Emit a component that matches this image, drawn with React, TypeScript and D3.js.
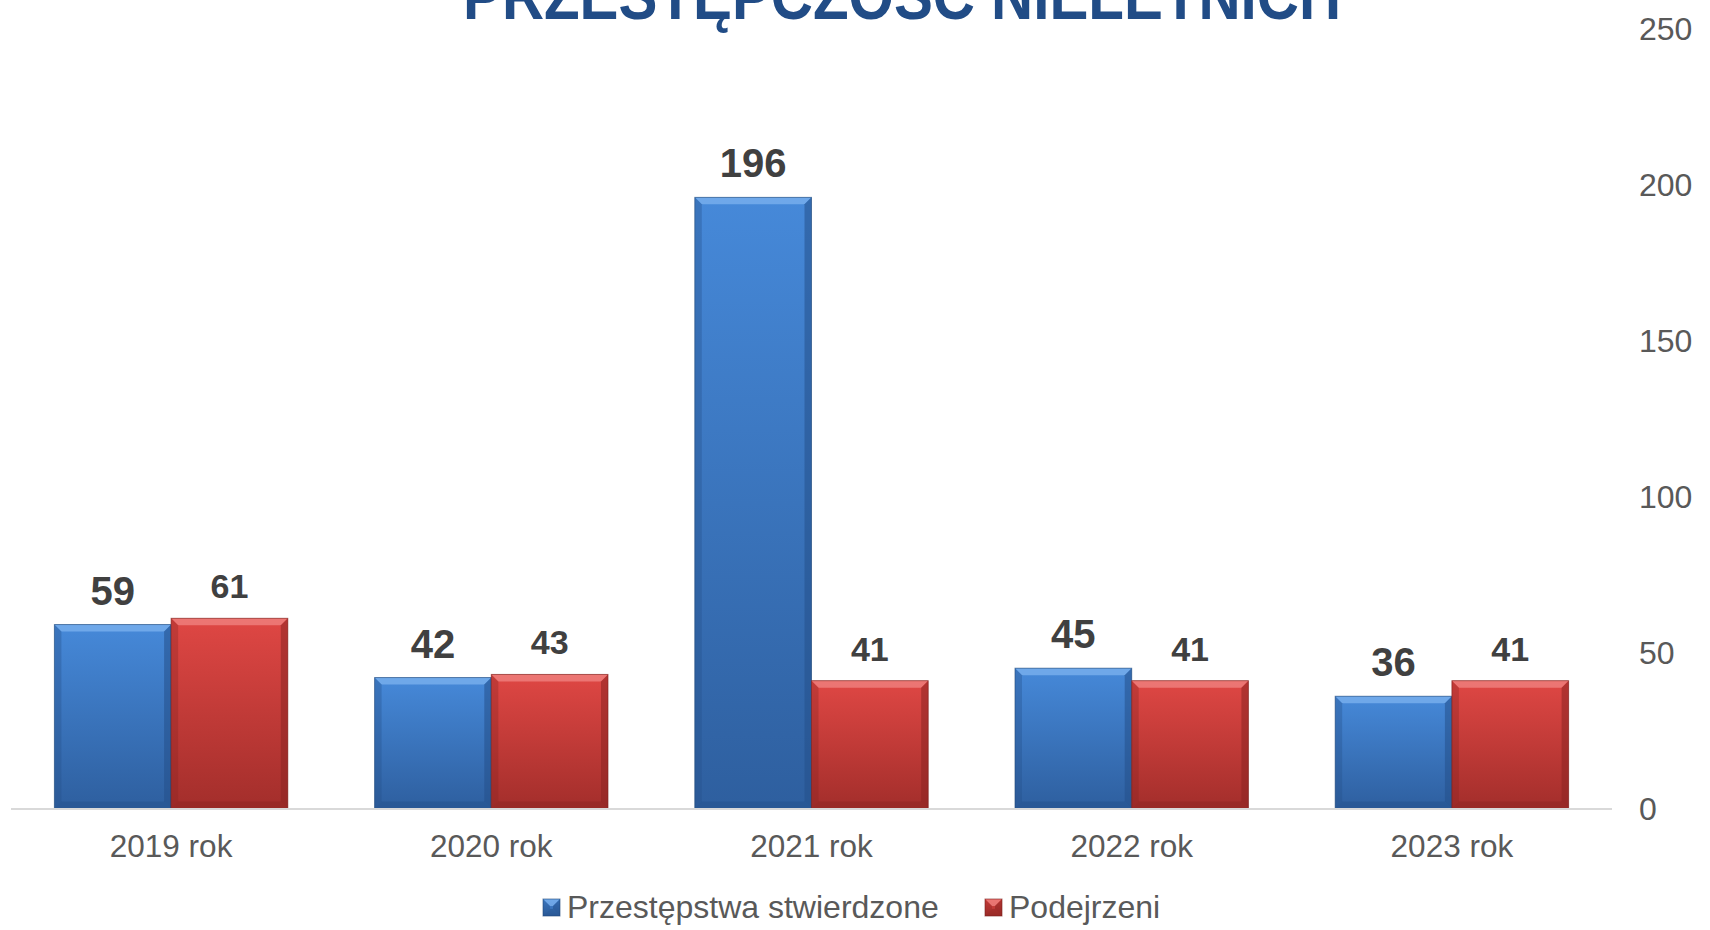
import React from "react";
import * as d3 from "d3";

const categories = ["2019 rok", "2020 rok", "2021 rok", "2022 rok", "2023 rok"];
const seriesNames = ["Przestępstwa stwierdzone", "Podejrzeni"];
const stwierdzone = [59, 42, 196, 45, 36];
const podejrzeni = [61, 43, 41, 41, 41];
const yTicks = [0, 50, 100, 150, 200, 250];
const title = "PRZESTĘPCZOŚĆ NIELETNICH";

const W = 1710;
const H = 930;
const FONT = "'Liberation Sans', Arial, sans-serif";

const palettes = [
  { top: "#4689d9", bottom: "#2e5f9f", light: "#7db3ef", dark: "#24508a", line: "#1f4778", id: "b" },
  { top: "#df4744", bottom: "#a32e2b", light: "#f08683", dark: "#8c2522", line: "#7a1f1d", id: "r" },
];

function Bar({ x, y, w, h, p }: { x: number; y: number; w: number; h: number; p: typeof palettes[0] }) {
  const b = Math.min(7, h / 2);
  return (
    <g>
      <rect x={x} y={y} width={w} height={h} fill={`url(#grad-${p.id})`} />
      <polygon
        points={`${x},${y} ${x + w},${y} ${x + w - b},${y + b} ${x + b},${y + b}`}
        fill={p.light}
        opacity={0.75}
      />
      <polygon
        points={`${x},${y} ${x + b},${y + b} ${x + b},${y + h - b} ${x},${y + h}`}
        fill={p.dark}
        opacity={0.35}
      />
      <polygon
        points={`${x + w},${y} ${x + w - b},${y + b} ${x + w - b},${y + h - b} ${x + w},${y + h}`}
        fill={p.dark}
        opacity={0.55}
      />
      <polygon
        points={`${x},${y + h} ${x + b},${y + h - b} ${x + w - b},${y + h - b} ${x + w},${y + h}`}
        fill={p.dark}
        opacity={0.45}
      />
      <rect x={x} y={y} width={w} height={h} fill="none" stroke={p.line} strokeWidth={1} opacity={0.6} />
    </g>
  );
}

export default function App() {
  const x0 = d3.scaleBand<string>().domain(categories).range([11, 1612]).paddingInner(0.271).paddingOuter(0.1355);
  const x1 = d3.scaleBand<string>().domain(seriesNames).range([0, x0.bandwidth()]).padding(0);
  const y = d3.scaleLinear().domain([0, 250]).range([808.5, 29]);
  const series = [stwierdzone, podejrzeni];

  return (
    <svg width={W} height={H} style={{ position: "absolute", left: 0, top: 0, background: "#fff" }}>
      <defs>
        {palettes.map((p) => (
          <linearGradient key={p.id} id={`grad-${p.id}`} x1="0" y1="0" x2="0" y2="1">
            <stop offset="0" stopColor={p.top} />
            <stop offset="1" stopColor={p.bottom} />
          </linearGradient>
        ))}
      </defs>
      <text
        x={902}
        y={19}
        textAnchor="middle"
        fontFamily={FONT}
        fontWeight="bold"
        fontSize={66}
        fill="#214c86"
        textLength={878}
        lengthAdjust="spacingAndGlyphs"
      >
        {title}
      </text>

      {yTicks.map((t) => (
        <text key={t} x={1639} y={y(t)} dy="0.35em" fontFamily={FONT} fontSize={32} fill="#595959">
          {t}
        </text>
      ))}

      {categories.map((c, i) =>
        series.map((s, j) => {
          const p = palettes[j];
          const bx = (x0(c) as number) + (x1(seriesNames[j]) as number);
          const bw = x1.bandwidth();
          const by = y(s[i]);
          const bh = y(0) - by;
          return <Bar key={c + j} x={bx} y={by} w={bw} h={bh} p={p} />;
        })
      )}

      <line x1={11} x2={1612} y1={y(0) + 0.5} y2={y(0) + 0.5} stroke="#d9d9d9" strokeWidth={2} />

      {categories.map((c, i) =>
        series.map((s, j) => {
          const bx = (x0(c) as number) + (x1(seriesNames[j]) as number) + x1.bandwidth() / 2;
          return (
            <text
              key={"l" + c + j}
              x={bx}
              y={y(s[i]) - 20}
              textAnchor="middle"
              fontFamily={FONT}
              fontWeight="bold"
              fontSize={j === 0 ? 40 : 34}
              fill="#404040"
            >
              {s[i]}
            </text>
          );
        })
      )}

      {categories.map((c) => (
        <text
          key={"x" + c}
          x={(x0(c) as number) + x0.bandwidth() / 2}
          y={857}
          textAnchor="middle"
          fontFamily={FONT}
          fontSize={31.5}
          fill="#595959"
        >
          {c}
        </text>
      ))}

      {[
        { mx: 543, tx: 567, name: seriesNames[0], p: palettes[0] },
        { mx: 985, tx: 1009, name: seriesNames[1], p: palettes[1] },
      ].map((l) => (
        <g key={l.name}>
          <Bar x={l.mx} y={899} w={17} h={17} p={l.p} />
          <text x={l.tx} y={918} fontFamily={FONT} fontSize={32} fill="#595959">
            {l.name}
          </text>
        </g>
      ))}
    </svg>
  );
}
